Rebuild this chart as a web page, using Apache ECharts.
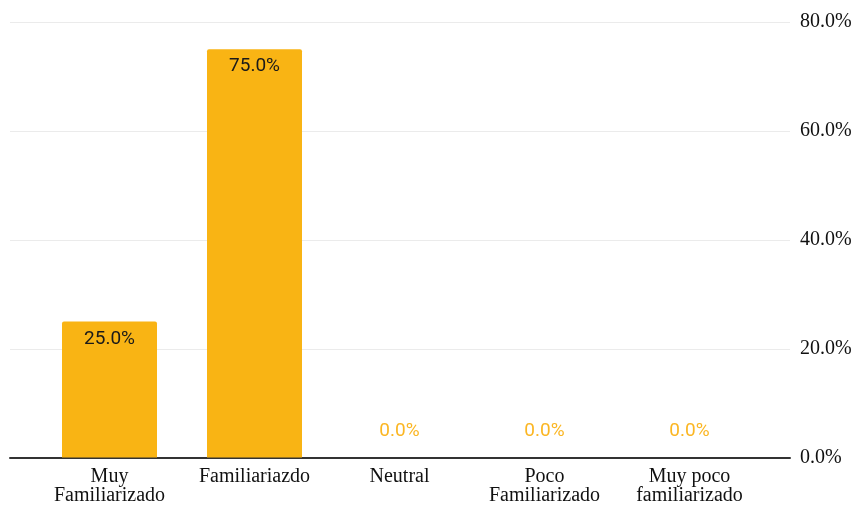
<!DOCTYPE html>
<html lang="es">
<head>
    <meta charset="UTF-8">
    <title>Familiaridad</title>
    <script src="https://cdn.jsdelivr.net/npm/echarts@6/dist/echarts.min.js"></script>
    <style>
        html, body { margin: 0; padding: 0; background: #fff; }
        #chart { width: 863px; height: 506px; }
    </style>
</head>
<body>
<div id="chart"></div>
<script type="text/javascript">
    // datos
    var categories = ['Muy\nFamiliarizado', 'Familiariazdo', 'Neutral', 'Poco\nFamiliarizado', 'Muy poco\nfamiliarizado'];
    var percentages = [25.0, 75.0, 0.0, 0.0, 0.0];
    var yTicks = [0, 20, 40, 60, 80];

    var barColor = '#F9B414';
    var serif = '"Liberation Serif", "DejaVu Serif", serif';

    var chart = echarts.init(document.getElementById('chart'));

    var option = {
        animation: false,
        grid: [
            // barras
            { left: 37, right: 101, top: 22, bottom: 48 },
            // rejilla y eje derecho (más ancho)
            { left: 10, right: 73, top: 22, bottom: 48 }
        ],
        xAxis: [
            {
                type: 'category',
                gridIndex: 0,
                data: categories,
                axisLine: { show: false },
                axisTick: { show: false },
                axisLabel: {
                    fontFamily: serif,
                    fontSize: 20,
                    color: '#111',
                    lineHeight: 19,
                    margin: 10,
                    interval: 0
                }
            },
            {
                type: 'value',
                gridIndex: 1,
                min: 0,
                max: 1,
                axisLine: { show: true, lineStyle: { color: '#333', width: 2 } },
                axisTick: { show: false },
                axisLabel: { show: false },
                splitLine: { show: false }
            }
        ],
        yAxis: [
            {
                type: 'value',
                gridIndex: 0,
                min: 0,
                max: 80,
                interval: 20,
                show: false
            },
            {
                type: 'value',
                gridIndex: 1,
                position: 'right',
                min: yTicks[0],
                max: yTicks[yTicks.length - 1],
                interval: 20,
                axisLine: { show: false },
                axisTick: { show: false },
                splitLine: { lineStyle: { color: '#ebebeb', width: 1 } },
                axisLabel: {
                    fontFamily: serif,
                    fontSize: 20,
                    color: '#111',
                    margin: 10,
                    formatter: function (v) { return v.toFixed(1) + '%'; }
                }
            }
        ],
        series: [{
            type: 'bar',
            xAxisIndex: 0,
            yAxisIndex: 0,
            barWidth: 95,
            itemStyle: { color: barColor, borderRadius: [2, 2, 0, 0] },
            data: percentages.map(function (v) {
                var zero = v === 0;
                return {
                    value: v,
                    label: {
                        show: true,
                        position: zero ? 'top' : 'insideTop',
                        distance: zero ? 17 : 8,
                        fontFamily: 'Roboto, sans-serif',
                        fontSize: 19,
                        color: zero ? '#FBB623' : '#1a1a1a',
                        formatter: function (p) { return p.value.toFixed(1) + '%'; }
                    }
                };
            })
        }]
    };

    chart.setOption(option);
</script>
</body>
</html>
